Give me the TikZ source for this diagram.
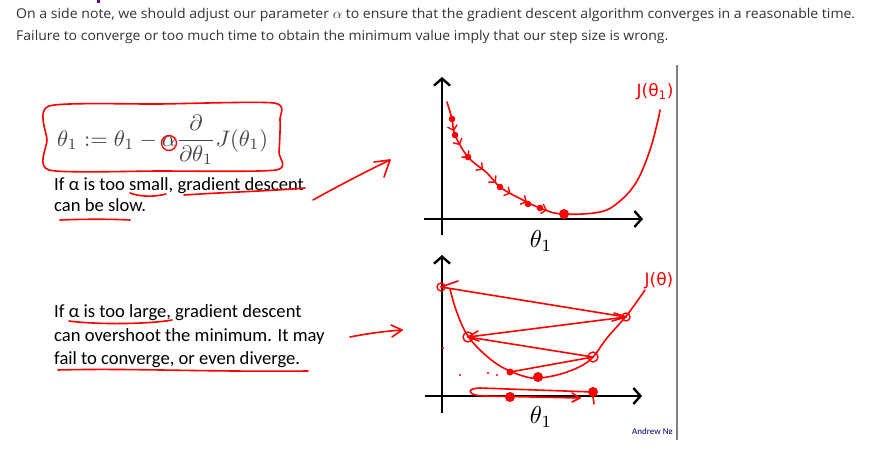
\documentclass[tikz,border=0pt]{standalone}
\usepackage[no-math]{fontspec}
\setmainfont{Carlito}
\newfontfamily\osans{Open Sans}
\newfontfamily\dvs{DejaVu Sans}
\usetikzlibrary{arrows.meta,decorations.markings}
\definecolor{hred}{RGB}{255,0,0}
\definecolor{toptext}{RGB}{51,51,51}
\definecolor{formgray}{RGB}{70,70,70}
\tikzset{
  hand/.style={draw=hred,line width=1.6pt,line cap=round,line join=round},
  axisline/.style={draw=black,line width=2.6pt,-{Straight Barb[length=7pt,width=16pt,line width=2.4pt]}},
  topline/.style={font=\osans\fontsize{13.5}{16}\selectfont,text=toptext,inner sep=0pt,anchor=base west},
  bodyline/.style={font=\fontsize{18.6}{22}\selectfont,text=black,inner sep=0pt,anchor=base west},
  handlabel/.style={font=\dvs\fontsize{17}{19}\selectfont,text=hred,inner sep=0pt},
  thetalabel/.style={inner sep=0pt}
}
\begin{document}
\begin{tikzpicture}[x=1pt,y=-1pt]
\useasboundingbox[fill=white] (0,0) rectangle (874,461);
% top paragraph
\node[topline] (t1) at (16,18) {\resizebox{839pt}{\height}{On a side note, we should adjust our parameter $\alpha$ to ensure that the gradient descent algorithm converges in a reasonable time.}};
\node[topline] (t2) at (16,40) {\resizebox{652pt}{\height}{Failure to converge or too much time to obtain the minimum value imply that our step size is wrong.}};
\fill[violet!80!blue] (97,0) rectangle (100,3);
% formula
\node[inner sep=0pt,anchor=west,text=formgray] (formula) at (57,140)
  {\resizebox{211pt}{!}{$\displaystyle \theta_1 := \theta_1 - \alpha\frac{\partial}{\partial\theta_1}J(\theta_1)$}};
\draw[hand] plot[smooth cycle,tension=0.4] coordinates {(49,106) (160,104) (274,103) (280,120) (279,152) (276,170) (160,171) (49,170) (47,140)};
\draw[hand,line width=1.3pt] (169,143) circle (7.5);
% small alpha text
\node[bodyline] (s1) at (54,190) {If α is too small, gradient descent};
\node[bodyline] (s2) at (54,211) {can be slow.};
\draw[hand] (130,193) .. controls (140,197) and (155,197) .. (166,194);
\draw[hand] (184,195) .. controls (230,192) and (270,191) .. (305,188);
\draw[hand] (60,220) .. controls (85,219) and (110,219) .. (130,220);
% arrow to top graph
\coordinate (a1s) at (313,200);
\coordinate (a1e) at (390,160);
\draw[hand] (a1s) .. controls (340,185) and (365,172) .. (a1e);
\draw[hand] (374,162) -- (a1e) -- (384,177);
% large alpha text
\node[bodyline] (l1) at (54,317) {If α is too large, gradient descent};
\node[bodyline] (l2) at (54,341) {can overshoot the minimum. It may};
\node[bodyline] (l3) at (54,364) {fail to converge, or even diverge.};
\draw[hand] (69,321) .. controls (100,325) and (150,324) .. (172,320);
\draw[hand] (58,370) .. controls (130,368) and (200,372) .. (308,371);
% arrow to bottom graph
\coordinate (a2s) at (350,337);
\coordinate (a2e) at (402,330);
\draw[hand] (a2s) .. controls (370,333) and (388,331) .. (a2e);
\draw[hand] (391,325) -- (a2e) -- (392,337);
% separator
\draw[gray,line width=2pt] (677,65) -- (677,440);
\begin{scope}
\clip (600,420) rectangle (676,433);
\node[font=\fontsize{9}{10}\selectfont,text=blue!40!black,anchor=north west,inner sep=0pt] (ng) at (632,428) {Andrew Ng};
\end{scope}
% top graph axes
\draw[axisline] (442,235) -- (442,77);
\draw[axisline] (424,219) -- (643,219);
\node[thetalabel] (th1) at (541,241) {\resizebox{!}{17pt}{$\theta_1$}};
% top curve
\draw[hand] plot[smooth,tension=0.6] coordinates {(447,102) (452,119) (455,135) (468,157) (487,173) (500,187) (517,197) (540,208) (562,214) (600,212) (620,201) (637,181) (650,150) (658,120) (660,110)};
\draw[hand,line width=1.4pt,decoration={markings,
   mark=at position 0.08 with {\arrow{Straight Barb[length=4.5pt,width=10pt]}},
   mark=at position 0.18 with {\arrow{Straight Barb[length=4.5pt,width=10pt]}},
   mark=at position 0.28 with {\arrow{Straight Barb[length=4.5pt,width=10pt]}},
   mark=at position 0.40 with {\arrow{Straight Barb[length=4.5pt,width=10pt]}},
   mark=at position 0.52 with {\arrow{Straight Barb[length=4.5pt,width=10pt]}},
   mark=at position 0.64 with {\arrow{Straight Barb[length=4.5pt,width=10pt]}},
   mark=at position 0.76 with {\arrow{Straight Barb[length=4.5pt,width=10pt]}},
   mark=at position 0.90 with {\arrow{Straight Barb[length=4.5pt,width=10pt]}}},postaction={decorate},draw=none]
   plot[smooth,tension=0.6] coordinates {(452,119) (455,135) (468,157) (487,173) (500,187) (517,197) (540,208) (562,214)};
\foreach \p in {(452,119),(455,135),(468,157),(500,187),(528,204),(540,208)} \fill[hred] \p circle (3.3);
\fill[hred] (564,214) circle (5);
\node[handlabel] (j1) at (655,92) {J(θ\textsubscript{1})};
% bottom graph axes
\draw[axisline] (442,413) -- (442,255);
\draw[axisline] (425,396) -- (642,396);
\node[thetalabel] (th2) at (541,417) {\resizebox{!}{17pt}{$\theta_1$}};
% bottom curve
\draw[hand] plot[smooth,tension=0.6] coordinates {(450,289) (456,310) (466,333) (480,350) (500,366) (523,376) (540,378) (567,372) (590,360) (607,338) (627,315) (645,290)};
\node[handlabel] (j2) at (659,281) {J(θ)};
\coordinate (p1) at (441,287);
\coordinate (p2) at (626,317);
\coordinate (p3) at (468,337);
\coordinate (p4) at (593,357);
\coordinate (p5) at (510,372);
\coordinate (p6) at (538,377);
\draw[hand] (p1) -- (p2);
\draw[hand] (614,313) -- (p2) -- (612,321);
\draw[hand] (p2) -- (p3);
\draw[hand] (478,331) -- (p3) -- (479,341);
\draw[hand] (p3) -- (p4);
\draw[hand] (p4) -- (p5);
\draw[hand] (p1) -- (458,281);
\draw[hand,line width=1.4pt] (p1) circle (4);
\draw[hand,line width=1.4pt] (p2) circle (4);
\draw[hand,line width=1.4pt] (p3) circle (5);
\draw[hand,line width=1.4pt] (p4) circle (5);
\fill[hred] (p5) circle (3.5);
\fill[hred] (p6) circle (5);
% bottom loop near axis
\coordinate (q1) at (593,392);
\coordinate (q2) at (510,397);
\draw[hand] (q1) -- (480,388) .. controls (466,388) and (466,396) .. (486,396) -- (580,398);
\draw[hand] (572,393) -- (580,398) -- (572,402);
\draw[hand] (593,397) -- (594,404);
\fill[hred] (q1) circle (5);
\fill[hred] (q2) circle (5);
\foreach \p in {(443,348),(460,375),(488,373),(497,375)} \fill[hred] \p circle (1.2);
\end{tikzpicture}
\end{document}
